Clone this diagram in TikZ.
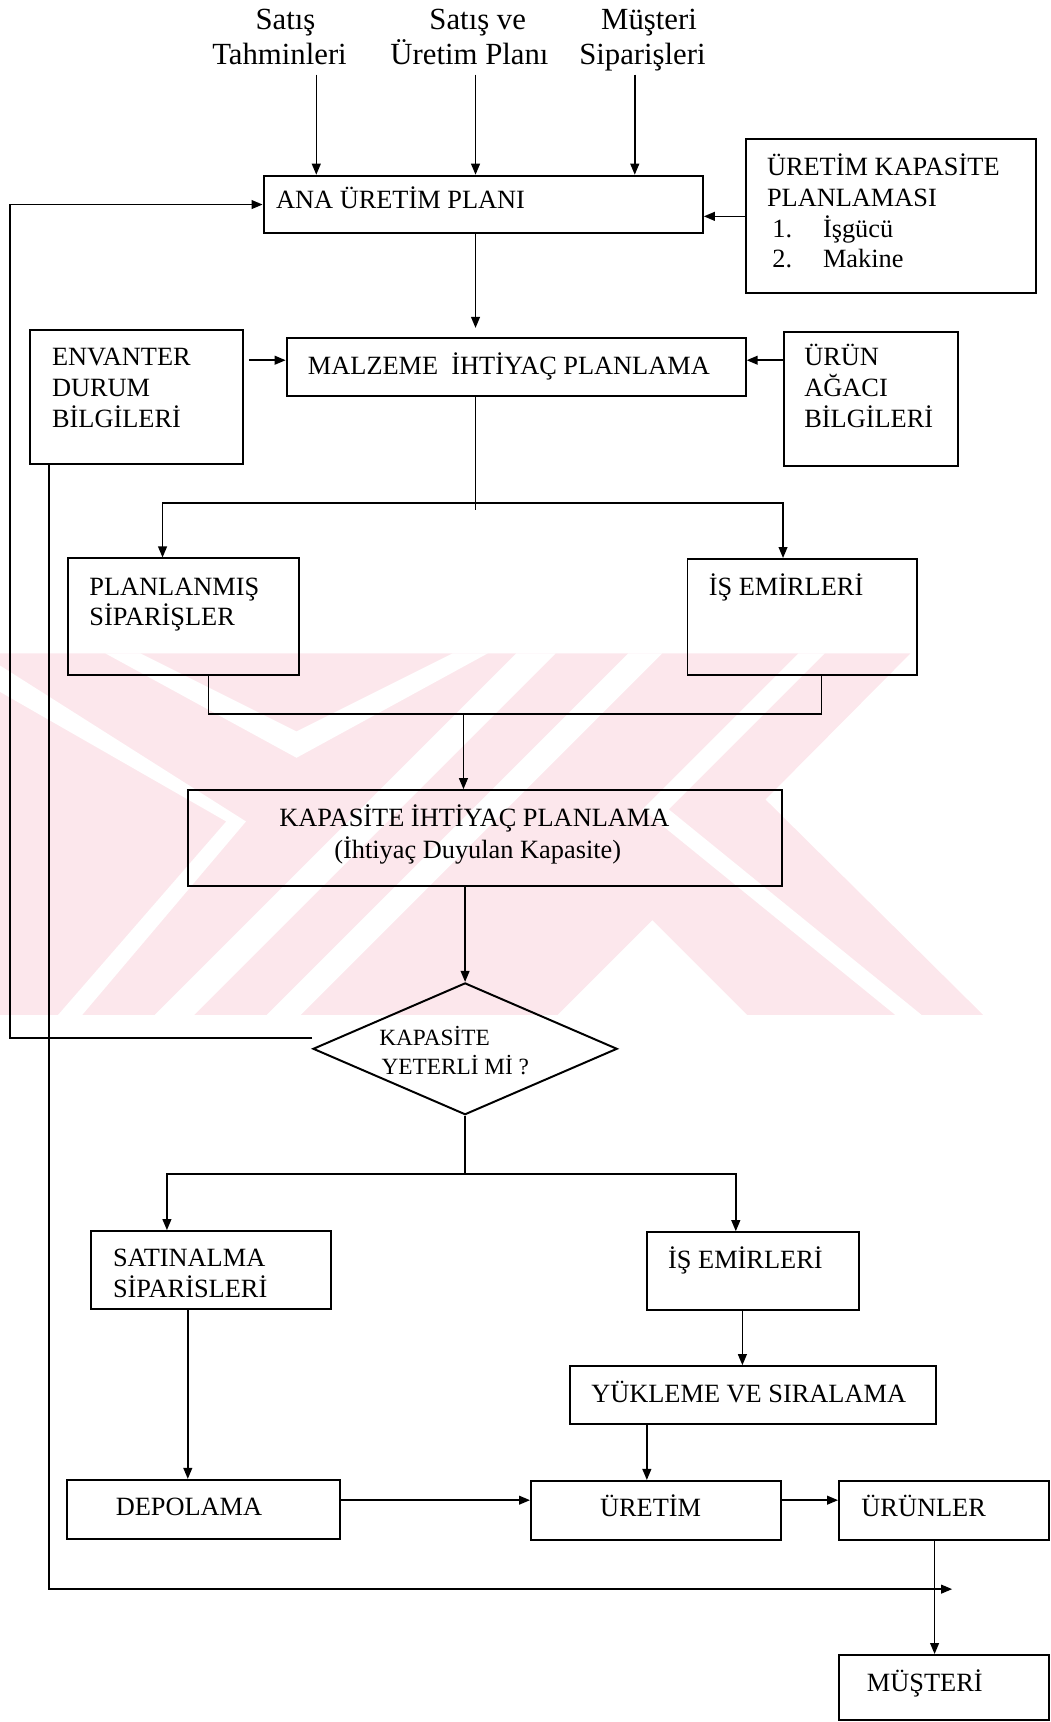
\documentclass[tikz,border=0pt]{standalone}
\usepackage{fontspec}
\setmainfont{Liberation Serif}
\usetikzlibrary{arrows.meta,fit,shapes.geometric}
\definecolor{wmpink}{RGB}{252,231,236}
\begin{document}
\begin{tikzpicture}[x=0.5pt,y=-0.5pt,
  box/.style={draw,line width=0.9pt,inner sep=0pt},
  lbl/.style={inner sep=0pt,anchor=base west,font=\fontsize{12}{14}\selectfont},
  small/.style={inner sep=0pt,anchor=base west,font=\fontsize{10.6}{12}\selectfont},
  toplbl/.style={inner sep=0pt,anchor=base,font=\fontsize{14}{16}\selectfont},
  ln/.style={line width=0.7pt},
  arr/.style={line width=0.7pt,-{Triangle[length=5pt,width=4pt]}}]
\useasboundingbox (0,0) rectangle (957,1568);

% faint background emblem
\fill[wmpink] (0,595) -- (829,595) -- (697,728) -- (895,924) -- (0,924) -- cycle;
\fill[white] (96,595) -- (128,595) -- (270,666) -- (412,595) -- (444,595) -- (270,690) -- cycle;
\fill[white] (0,606) -- (224,748) -- (75,924) -- (53,924) -- (206,748) -- (0,630) -- cycle;
\fill[white] (470,595) -- (506,595) -- (177,924) -- (141,924) -- cycle;
\fill[white] (572,595) -- (603,595) -- (274,924) -- (243,924) -- cycle;
\fill[white] (727,595) -- (751,595) -- (609,737) -- (839,924) -- (815,924) -- (585,737) -- cycle;
\fill[white] (594,838) -- (680,924) -- (508,924) -- cycle;

% boxes
\node[box,fit={(240,160) (640,212.5)}] (ana) {};
\node[box,fit={(679,127) (943,267)}] (ukp) {};
\node[box,fit={(27,300.5) (221,422.5)}] (env) {};
\node[box,fit={(261,307.5) (679,360.5)}] (mrp) {};
\node[box,fit={(714,302) (872,424)}] (bom) {};
\node[box,fit={(62,508.5) (272,615)}] (plo) {};
\node[box,fit={(626,509) (835,615)}] (ise1) {};
\node[box,fit={(171,719.5) (712,807)}] (kip) {};
\node[draw,line width=0.9pt,diamond,inner sep=0pt,minimum width=138.5pt,minimum height=60pt] (dia) at (423.5,955) {};
\node[box,fit={(82.5,1121) (301.5,1191.5)}] (sat) {};
\node[box,fit={(589,1122) (782,1192.5)}] (ise2) {};
\node[box,fit={(519,1244) (852,1297)}] (yuk) {};
\node[box,fit={(61,1347.5) (310,1401.5)}] (dep) {};
\node[box,fit={(483.5,1348.5) (711.5,1402)}] (ure) {};
\node[box,fit={(764,1348.5) (955.5,1402.5)}] (urn) {};
\node[box,fit={(764,1507) (955.5,1566)}] (mus) {};

% texts
\node[toplbl] (t1a) at (260,27) {Satış};
\node[toplbl] (t1b) at (254.5,59) {Tahminleri};
\node[toplbl] (t2a) at (435,27) {Satış ve};
\node[toplbl] (t2b) at (427.5,59) {Üretim Planı};
\node[toplbl] (t3a) at (591,27) {Müşteri};
\node[toplbl] (t3b) at (585,59) {Siparişleri};

\node[lbl] (ana-t) at (251,190) {ANA ÜRETİM PLANI};
\node[lbl] (ukp-a) at (698,160) {ÜRETİM KAPASİTE};
\node[lbl] (ukp-b) at (698,188) {PLANLAMASI};
\node[lbl] (ukp-c) at (703,216) {1.};
\node[lbl] (ukp-d) at (749,216) {İşgücü};
\node[lbl] (ukp-e) at (703,244) {2.};
\node[lbl] (ukp-f) at (749,244) {Makine};
\node[lbl] (env-a) at (47,333) {ENVANTER};
\node[lbl] (env-b) at (47,361) {DURUM};
\node[lbl] (env-c) at (47,389) {BİLGİLERİ};
\node[lbl] (mrp-t) at (280,341) {MALZEME\ \ İHTİYAÇ PLANLAMA};
\node[lbl] (bom-a) at (732,333) {ÜRÜN};
\node[lbl] (bom-b) at (732,361) {AĞACI};
\node[lbl] (bom-c) at (732,389) {BİLGİLERİ};
\node[lbl] (plo-a) at (81,542) {PLANLANMIŞ};
\node[lbl] (plo-b) at (81,570) {SİPARİŞLER};
\node[lbl] (ise1-t) at (645,542) {İŞ EMİRLERİ};
\node[lbl,anchor=base] (kip-a) at (432,753) {KAPASİTE İHTİYAÇ PLANLAMA};
\node[lbl,anchor=base] (kip-b) at (435,782) {(İhtiyaç Duyulan Kapasite)};
\node[small] (dia-a) at (345,952) {KAPASİTE};
\node[small] (dia-b) at (347,978) {YETERLİ Mİ ?};
\node[lbl] (sat-a) at (102.5,1153) {SATINALMA};
\node[lbl] (sat-b) at (102.5,1181) {SİPARİSLERİ};
\node[lbl] (ise2-t) at (608,1155) {İŞ EMİRLERİ};
\node[lbl] (yuk-t) at (538,1277) {YÜKLEME VE SIRALAMA};
\node[lbl] (dep-t) at (105,1380) {DEPOLAMA};
\node[lbl] (ure-t) at (546,1381) {ÜRETİM};
\node[lbl] (urn-t) at (784,1381) {ÜRÜNLER};
\node[lbl] (mus-t) at (789,1540) {MÜŞTERİ};

% reference points for connector positions
\coordinate (c1) at (288,68);
\coordinate (c2) at (433,68);
\coordinate (c3) at (578,68);
\coordinate (ya) at (0,328);
\coordinate (br1) at (433,458);
\coordinate (xl1) at (148,0);
\coordinate (xr1) at (713,0);
\coordinate (xp) at (190,0);
\coordinate (xq) at (748,0);
\coordinate (j1) at (422,650);
\coordinate (br2) at (423.5,1069);
\coordinate (xl2) at (152,0);
\coordinate (xr2) at (670,0);
\coordinate (xs) at (171,0);
\coordinate (xi) at (676,0);
\coordinate (xy) at (589,0);
\coordinate (ya2) at (0,1366);
\coordinate (xu) at (851,0);
\coordinate (xe) at (44.5,0);
\coordinate (ee) at (867,1447);

% connectors
\draw[arr] (c1) -- (c1 |- ana.north);
\draw[arr] (c2) -- (c2 |- ana.north);
\draw[arr] (c3) -- (c3 |- ana.north);
\draw[arr] (ukp.west) -- (ukp.west -| ana.east);
\draw[arr] ([yshift=5pt]dia.west) -| ([xshift=-115pt]ana.west) -- (ana.west);
\draw[arr,shorten >=4pt] (ana.south -| c2) -- (mrp.north -| c2);
\draw[arr,shorten <=2.5pt] (env.east |- ya) -- (mrp.west |- ya);
\draw[arr] (bom.west |- ya) -- (mrp.east |- ya);
\draw[ln] (mrp.south -| br1) -- ([yshift=-3pt]br1);
\draw[arr] (br1) -| (plo.north -| xl1);
\draw[arr] (br1) -| (ise1.north -| xr1);
\draw[ln] (plo.south -| xp) |- (j1) -| (ise1.south -| xq);
\draw[arr] (j1) -- (kip.north -| j1);
\draw[arr] (kip.south -| dia.north) -- (dia.north);
\draw[ln] (dia.south) -- (br2);
\draw[arr] (br2) -| (sat.north -| xl2);
\draw[arr] (br2) -| (ise2.north -| xr2);
\draw[arr] (sat.south -| xs) -- (dep.north -| xs);
\draw[arr] (ise2.south -| xi) -- (yuk.north -| xi);
\draw[arr] (yuk.south -| xy) -- (ure.north -| xy);
\draw[arr] (dep.east |- ya2) -- (ure.west |- ya2);
\draw[arr] (ure.east |- ya2) -- (urn.west |- ya2);
\draw[arr] (urn.south -| xu) -- (mus.north -| xu);
\draw[arr] (env.south -| xe) |- (ee);
\end{tikzpicture}
\end{document}
